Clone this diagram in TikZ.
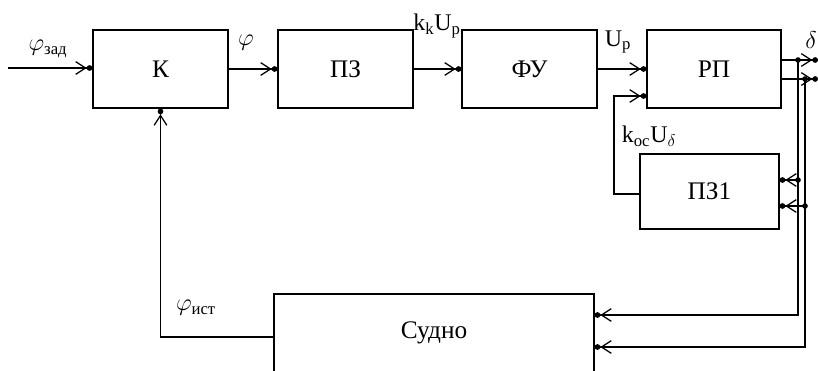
\documentclass[tikz,border=0pt]{standalone}
\usepackage{amsmath}
\usepackage{fontspec}
\setmainfont{Liberation Serif}
\usetikzlibrary{arrows.meta}

\begin{document}
\begin{tikzpicture}[x=0.025cm, y=-0.025cm, line width=0.9pt,
    pf/.style={-{Straight Barb[length=7pt,width=9pt]Circle[length=4pt]}},
    blok/.style={draw, minimum width=3.375cm, minimum height=1.95cm, font=\fontsize{18}{21}\selectfont},
    lbl/.style={font=\fontsize{17}{20}\selectfont, inner sep=0pt}]
    \useasboundingbox (0,0) rectangle (818,370);

    \node[blok] (K) at (160.5,69) {К};
    \node[blok] (PZ) at (345.5,69) {ПЗ};
    \node[blok] (FU) at (529.5,69) {ФУ};
    \node[blok, minimum width=3.35cm] (RP) at (714,69) {РП};
    \node[blok, minimum width=3.475cm, minimum height=1.875cm] (PZ1) at (709.5,191.5) {ПЗ1};
    \node[blok, minimum width=8cm] (S) at (434,333) {Судно};

    \coordinate (in) at (8,68);
    \coordinate (j1) at (798,60);
    \coordinate (j2) at (805,79);
    \coordinate (o1) at (818,60);
    \coordinate (o2) at (818,79);
    \coordinate (j3) at (798,180);
    \coordinate (j4) at (805,206);

    \draw[pf] (in) -- (K.west |- in);
    \draw[pf] (K) -- (PZ);
    \draw[pf] (PZ) -- (FU);
    \draw[pf] (FU) -- (RP);
    \draw[pf] (PZ1.west |- 0,194) -- (614,194) |- (RP.west |- 0,96);
    \draw[pf] (S.west |- 0,337) -| (K.south);

    \draw (RP.east |- j1) -- (j1);
    \draw (RP.east |- j2) -- (j2);
    \draw[pf] (j1) -- (o1);
    \draw[pf] (j2) -- (o2);
    \draw[pf] (j1) |- (S.east |- 0,315);
    \draw[pf] (j2) |- (S.east |- 0,347);
    \draw[pf] (j3) -- (PZ1.east |- j3);
    \draw[pf] (j4) -- (PZ1.east |- j4);
    \foreach \j in {j1,j2,j3,j4}
        \fill (\j) circle (2pt);

    \node[lbl] (fz) at (48,49) {$\varphi_{\text{зад}}$};
    \node[lbl] (f) at (246,43) {$\varphi$};
    \node[lbl] (kk) at (437,26) {k$_{\text{k}}$U$_{\text{p}}$};
    \node[lbl] (up) at (618,42) {U$_{\text{p}}$};
    \node[lbl] (d) at (811,40) {$\delta$};
    \node[lbl] (koc) at (649,136) {k$_{\text{oc}}$U$_{\delta}$};
    \node[lbl] (fi) at (196,308) {$\varphi_{\text{ист}}$};
\end{tikzpicture}
\end{document}
